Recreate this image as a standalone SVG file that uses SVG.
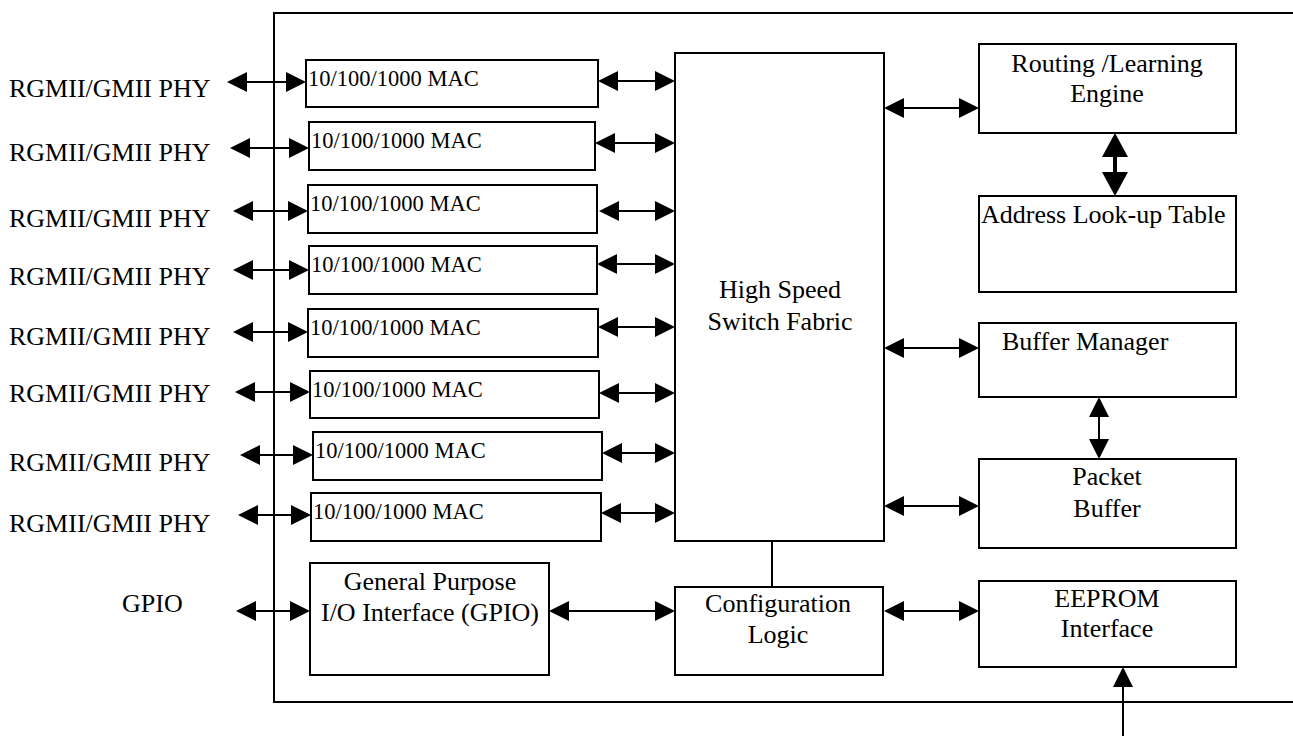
<svg xmlns="http://www.w3.org/2000/svg" width="1293" height="736" viewBox="0 0 1293 736">
<style>
.box{fill:#fff;stroke:#000;stroke-width:2}
.t{font-family:"Liberation Serif","Times New Roman",serif;fill:#000}
.lbl{font-size:26px}
.mac{font-size:22.5px}
.c{text-anchor:middle}
.ln{stroke:#000;stroke-width:2;fill:none}
.arr{stroke:#000;stroke-width:2;fill:none;marker-start:url(#ah);marker-end:url(#ah)}
</style>
<defs>
<marker id="ah" markerUnits="userSpaceOnUse" markerWidth="20" markerHeight="20" refX="10" refY="10" orient="auto-start-reverse" viewBox="0 0 20 20">
<path d="M0,0 L20,10 L0,20 z" fill="#000"/>
</marker>
</defs>
<rect width="1293" height="736" fill="#fff"/>
<g id="chip">
<path class="ln" d="M1293,13 H274 V702 H1293"/>
</g>
<g id="labels">
<text class="t lbl" x="9" y="97">RGMII/GMII PHY</text>
<text class="t lbl" x="9" y="161">RGMII/GMII PHY</text>
<text class="t lbl" x="9" y="227">RGMII/GMII PHY</text>
<text class="t lbl" x="9" y="285">RGMII/GMII PHY</text>
<text class="t lbl" x="9" y="345">RGMII/GMII PHY</text>
<text class="t lbl" x="9" y="402">RGMII/GMII PHY</text>
<text class="t lbl" x="9" y="471">RGMII/GMII PHY</text>
<text class="t lbl" x="9" y="532">RGMII/GMII PHY</text>
<text class="t lbl" x="122" y="612">GPIO</text>
</g>
<g id="mac1"><rect class="box" x="306" y="60" width="292" height="47"/><text class="t mac" x="308" y="86">10/100/1000 MAC</text></g>
<g id="mac2"><rect class="box" x="309" y="122" width="286" height="48"/><text class="t mac" x="311" y="148">10/100/1000 MAC</text></g>
<g id="mac3"><rect class="box" x="308" y="185" width="289" height="48"/><text class="t mac" x="310" y="211">10/100/1000 MAC</text></g>
<g id="mac4"><rect class="box" x="309" y="246" width="288" height="48"/><text class="t mac" x="311" y="272">10/100/1000 MAC</text></g>
<g id="mac5"><rect class="box" x="308" y="309" width="290" height="48"/><text class="t mac" x="310" y="335">10/100/1000 MAC</text></g>
<g id="mac6"><rect class="box" x="310" y="371" width="289" height="47"/><text class="t mac" x="312" y="397">10/100/1000 MAC</text></g>
<g id="mac7"><rect class="box" x="313" y="432" width="289" height="48"/><text class="t mac" x="315" y="458">10/100/1000 MAC</text></g>
<g id="mac8"><rect class="box" x="311" y="493" width="290" height="48"/><text class="t mac" x="313" y="519">10/100/1000 MAC</text></g>
<g id="gpio"><rect class="box" x="310" y="563" width="239" height="112"/>
<text class="t lbl c" x="430" y="590">General Purpose</text>
<text class="t lbl c" x="430" y="621">I/O Interface (GPIO)</text></g>
<g id="fabric"><rect class="box" x="675" y="53" width="209" height="488"/>
<text class="t lbl c" x="780" y="298">High Speed</text>
<text class="t lbl c" x="780" y="330">Switch Fabric</text></g>
<g id="config"><rect class="box" x="675" y="587" width="208" height="88"/>
<text class="t lbl c" x="778" y="612">Configuration</text>
<text class="t lbl c" x="778" y="643">Logic</text></g>
<g id="routing"><rect class="box" x="979" y="44" width="257" height="89"/>
<text class="t lbl c" x="1107" y="72">Routing /Learning</text>
<text class="t lbl c" x="1107" y="102">Engine</text></g>
<g id="alt"><rect class="box" x="979" y="196" width="257" height="96"/>
<text class="t lbl" x="981" y="223">Address Look-up Table</text></g>
<g id="bufmgr"><rect class="box" x="979" y="323" width="257" height="74"/>
<text class="t lbl" x="1002" y="350">Buffer Manager</text></g>
<g id="pktbuf"><rect class="box" x="979" y="459" width="257" height="89"/>
<text class="t lbl c" x="1107" y="485">Packet</text>
<text class="t lbl c" x="1107" y="517">Buffer</text></g>
<g id="eeprom"><rect class="box" x="979" y="581" width="257" height="86"/>
<text class="t lbl c" x="1107" y="607">EEPROM</text>
<text class="t lbl c" x="1107" y="637">Interface</text></g>
<g id="connectors">
<line class="arr" x1="237" y1="82" x2="296" y2="82"/>
<line class="arr" x1="240" y1="148" x2="299" y2="148"/>
<line class="arr" x1="243" y1="211" x2="298" y2="211"/>
<line class="arr" x1="243" y1="270" x2="299" y2="270"/>
<line class="arr" x1="243" y1="332" x2="298" y2="332"/>
<line class="arr" x1="245" y1="392" x2="300" y2="392"/>
<line class="arr" x1="250" y1="455" x2="303" y2="455"/>
<line class="arr" x1="248" y1="515" x2="301" y2="515"/>
<line class="arr" x1="246" y1="611" x2="300" y2="611"/>
<line class="arr" x1="608" y1="81" x2="665" y2="81"/>
<line class="arr" x1="605" y1="143" x2="665" y2="143"/>
<line class="arr" x1="609" y1="211" x2="665" y2="211"/>
<line class="arr" x1="607" y1="264" x2="665" y2="264"/>
<line class="arr" x1="608" y1="327" x2="665" y2="327"/>
<line class="arr" x1="609" y1="393" x2="665" y2="393"/>
<line class="arr" x1="612" y1="453" x2="665" y2="453"/>
<line class="arr" x1="611" y1="513" x2="665" y2="513"/>
<line class="arr" x1="559" y1="611" x2="665" y2="611"/>
<line class="arr" x1="894" y1="108" x2="969" y2="108"/>
<line class="arr" x1="894" y1="348" x2="969" y2="348"/>
<line class="arr" x1="894" y1="506" x2="969" y2="506"/>
<line class="arr" x1="894" y1="611" x2="969" y2="611"/>
<line class="arr" x1="1099" y1="407" x2="1099" y2="449"/>
<line class="ln" x1="772" y1="541" x2="772" y2="587"/>
<line class="ln" x1="1123" y1="736" x2="1123" y2="680"/>
<path d="M1123,667 L1133,687 L1113,687 z" fill="#000"/>
<rect x="1113" y="150" width="4" height="30" fill="#000"/>
<path d="M1115,133 L1128,157 L1102,157 z" fill="#000"/>
<path d="M1115,196 L1128,172 L1102,172 z" fill="#000"/>
</g>
</svg>
